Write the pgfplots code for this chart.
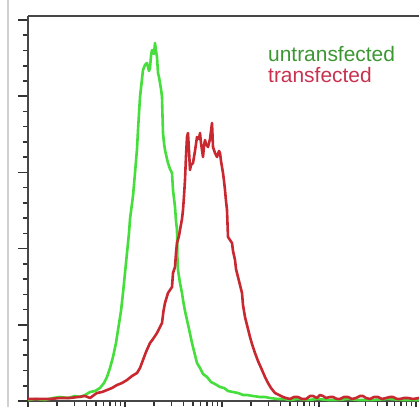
\documentclass[border=0pt]{standalone}
\usepackage{pgfplots}
\pgfplotsset{compat=1.18}
\usepackage{fontspec}
\setmainfont{Liberation Sans}
\definecolor{ugreen}{RGB}{70,222,60}
\definecolor{tred}{RGB}{200,40,48}
\definecolor{labgreen}{RGB}{60,150,50}
\definecolor{labred}{RGB}{200,50,80}
\definecolor{axgray}{RGB}{70,70,70}
\begin{document}
\begin{tikzpicture}[x=1bp,y=1bp]
\useasboundingbox (0,0) rectangle (419,407);
\fill[white] (0,0) rectangle (419,407);
\draw[line width=2bp, black!18] (8,0) -- (8,407);
\begin{axis}[
  at={(28bp,6bp)}, anchor=south west,
  scale only axis, width=391bp, height=385bp,
  xmin=0, xmax=391, ymin=0, ymax=385,
  axis x line*=bottom, axis y line*=left,
  axis line style={axgray, line width=2bp},
  xtick={0,97,194,291,388},
  minor xtick={29.2,46.3,58.4,67.8,75.5,82.0,87.6,92.5,
               126.2,143.3,155.4,164.8,172.5,179.0,184.6,189.5,
               223.2,240.3,252.4,261.8,269.5,276.0,281.6,286.5,
               320.2,337.3,349.4,358.8,366.5,373.0,378.6,383.5},
  ytick={0,76.2,152.4,228.6,304.8,381},
  minor y tick num=4,
  xticklabels={}, yticklabels={},
  tick align=outside,
  major tick length=10bp, minor tick length=5bp,
  every tick/.style={black!80, line width=1.6bp},
  clip=true,
]
\addplot[ugreen, line width=2.6bp, line join=round] coordinates {
(0,1) (8,2) (17,1) (25,3) (32,4) (40,3) (47,5) (52,4) (57,6) (62,9)
(67,10) (72,13) (76,18) (79,24) (82,33) (85,44) (88,58) (90,71) (93,90)
(95,108) (97,128) (99,148) (101,168) (102,182) (105,205) (107,228) (109,252)
(110,271) (112,304) (114,322) (115,331) (117,336) (119,338) (121,330) (122,333)
(123,345) (124,351) (126,347) (127,358) (128,350) (129,344) (130,328) (131,324)
(132,318) (133,312) (134,304) (134.5,285) (135,268) (136,258) (137,251) (139,242)
(140,238) (142,232) (144,228) (145,211) (147,194) (148,180) (149,171) (149.5,140)
(150,131) (152,118) (154,108) (155,101) (157,90) (159,81) (161,72) (164,58)
(166,50) (169,38) (172,33) (175,27) (179,24) (183,19) (187,17) (192,14)
(196,13) (200,10) (205,9) (210,8) (215,6) (219,6) (225,5) (232,4) (237,4)
(242,3) (250,2) (256,2) (262,1) (270,2) (280,1) (290,2) (300,1) (310,1) (320,2)
(330,1) (345,1) (360,2) (375,1) (391,1)
};
\addplot[tred, line width=2.6bp, line join=round] coordinates {
(0,2) (10,2) (22,2) (32,3) (42,3) (50,4) (57,5) (62,3) (66,6) (69,8)
(74,9) (79,11) (84,13) (89,16) (94,18) (99,21) (104,25) (109,28) (112,33)
(115,41) (118,49) (122,58) (125,62) (129,68) (131,72) (134,78) (135.5,90) (137,98)
(140,108) (142,111) (144,114) (145,128) (147,134) (148,148) (149,158) (151,165)
(152,171) (154,182) (155,191) (156,205) (157,221) (158,245) (159,264) (160,268)
(161,250) (162,231) (163,236) (165,238) (167,250) (169,264) (171,262) (172,268)
(173,258) (175,244) (176,255) (177,261) (178,257) (180,254) (182,262) (184,278)
(185,254) (187,248) (189,244) (191,250) (192,248) (193,240) (194,234) (195,228)
(196,220) (197,211) (198,200) (199,191) (200,164) (202,161) (204,158) (205,150)
(207,141) (208,132) (210,124) (212,116) (214,108) (215,96) (217,84) (219,76)
(222,64) (224,57) (227,48) (230,40) (234,31) (237,24) (240,18) (243,13)
(247,8) (251,6) (255,4) (258,3) (262,2) (266,4) (270,4) (274,2) (278,2) (282,5)
(285,5) (289,3) (292,6) (295,5) (298,3) (302,4) (305,4) (309,2) (312,2) (316,4)
(320,4) (324,2) (328,3) (332,5) (335,5) (338,3) (342,2) (346,4) (350,4) (354,2)
(358,3) (362,4) (365,4) (369,2) (372,2) (376,3) (380,3) (385,2) (391,3)
};
\draw[axgray, line width=3bp] (rel axis cs:0,1) -- (rel axis cs:1,1);
\end{axis}
\node[anchor=base west, inner sep=0pt, text=labgreen, font=\fontsize{21}{23}\selectfont] at (268,346) {untransfected};
\node[anchor=base west, inner sep=0pt, text=labred, font=\fontsize{21}{23}\selectfont] at (268,325) {transfected};
\end{tikzpicture}
\end{document}
